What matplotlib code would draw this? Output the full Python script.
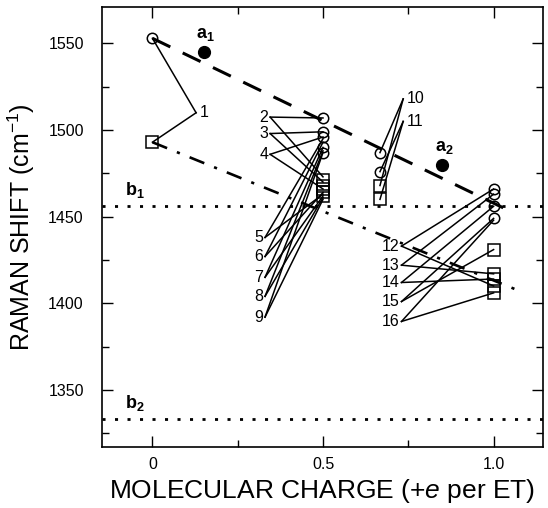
import matplotlib
matplotlib.use("Agg")
import matplotlib.pyplot as plt
import numpy as np

plt.rcParams['font.family'] = ['Liberation Sans', 'DejaVu Sans']
plt.rcParams['mathtext.fontset'] = 'custom'
plt.rcParams['mathtext.rm'] = 'Liberation Sans'
plt.rcParams['mathtext.it'] = 'Liberation Sans:italic'
plt.rcParams['mathtext.bf'] = 'Liberation Sans:bold'

# ---- data ----
circle_charge = [0, 0.5, 0.5, 0.5, 0.5, 0.5, 0.667, 0.667, 1.0, 1.0, 1.0, 1.0]
circle_shift = [1553, 1507, 1499, 1496, 1490, 1487, 1487, 1476, 1466, 1463, 1456, 1449]
square_charge = [0, 0.5, 0.5, 0.5, 0.5, 0.5, 0.667, 0.667, 1.0, 1.0, 1.0, 1.0, 1.0]
square_shift = [1493, 1471, 1468, 1466, 1464, 1462, 1468, 1460, 1431, 1417, 1414, 1410, 1406]

filled_charge = [0.15, 0.85]
filled_shift = [1545, 1480]
filled_names = [r'$\mathbf{a_1}$', r'$\mathbf{a_2}$']

trend_a_charge = [0.0, 1.04]
trend_a_shift = [1553, 1454]
trend_b_charge = [0.0, 1.065]
trend_b_shift = [1493, 1408]

b1_shift = 1456
b2_shift = 1333

# sample labels: junction point, target circle and square
label_names = ['1', '2', '3', '4', '5', '6', '7', '8', '9',
               '10', '11', '12', '13', '14', '15', '16']
label_charge = [0.128, 0.345, 0.345, 0.345, 0.33, 0.33, 0.33, 0.33, 0.33,
                0.735, 0.735, 0.73, 0.73, 0.73, 0.73, 0.73]
label_shift = [1510, 1507.5, 1498, 1486, 1438, 1427, 1415, 1404, 1392,
               1518, 1505, 1433, 1422, 1412, 1401, 1389.5]
label_side = ['r', 'l', 'l', 'l', 'l', 'l', 'l', 'l', 'l',
              'r', 'r', 'l', 'l', 'l', 'l', 'l']
link_charge = [0, 0.5, 0.5, 0.5, 0.5, 0.5, 0.5, 0.5, 0.5,
               0.667, 0.667, 1.0, 1.0, 1.0, 1.0, 1.0]
link_circle = [1553, 1507, 1499, 1496, 1495, 1493, 1490, 1488, 1487,
               1487, 1476, 1466, 1463, 1456, 1449, 1448]
link_square = [1493, 1473, 1470, 1466, 1463, 1464, 1462, 1461, 1460,
               1468, 1460, 1410, 1417, 1414, 1431, 1406]

xticks = [0, 0.5, 1.0]
xtick_labels = ['0', '0.5', '1.0']
yticks = [1350, 1400, 1450, 1500, 1550]

# ---- figure ----
fig = plt.figure(figsize=(5.48, 5.08), dpi=100)
ax = fig.add_axes([0.186, 0.120, 0.805, 0.866])
ax.set_xlim(-0.148, 1.145)
ax.set_ylim(1317, 1571)

# connector lines
for i in range(len(label_names)):
    lx, ly = label_charge[i], label_shift[i]
    ax.plot([lx, link_charge[i]], [ly, link_circle[i]], color='black', lw=1.1, zorder=2)
    ax.plot([lx, link_charge[i]], [ly, link_square[i]], color='black', lw=1.1, zorder=2)
    if label_side[i] == 'r':
        ax.text(lx + 0.01, ly, label_names[i], ha='left', va='center', fontsize=11.5)
    else:
        ax.text(lx - 0.005, ly, label_names[i], ha='right', va='center', fontsize=11.5)

# trend lines
ax.plot(trend_a_charge, trend_a_shift, color='black', lw=2.2,
        linestyle=(0, (6.5, 4.5)), zorder=3)
ax.plot(trend_b_charge, trend_b_shift, color='black', lw=1.9,
        linestyle=(0, (6, 4, 1.2, 4)), zorder=3)

# reference lines
ax.axhline(b1_shift, color='black', lw=2.0, linestyle=(0, (1.1, 3.4)), zorder=3)
ax.axhline(b2_shift, color='black', lw=2.0, linestyle=(0, (1.1, 3.4)), zorder=3)
ax.text(-0.08, b1_shift + 3.5, r'$\mathbf{b_1}$', ha='left', va='bottom', fontsize=13)
ax.text(-0.08, b2_shift + 3.5, r'$\mathbf{b_2}$', ha='left', va='bottom', fontsize=13)

# markers
ax.plot(circle_charge, circle_shift, linestyle='none', marker='o', markersize=7.5,
        markerfacecolor='none', markeredgecolor='black', markeredgewidth=1.1, zorder=4)
ax.plot(square_charge, square_shift, linestyle='none', marker='s', markersize=8,
        markerfacecolor='none', markeredgecolor='black', markeredgewidth=1.1, zorder=4)
ax.plot(filled_charge, filled_shift, linestyle='none', marker='o', markersize=8.5,
        color='black', zorder=4)
for x, y, n in zip(filled_charge, filled_shift, filled_names):
    ax.text(x + 0.005, y + 5, n, ha='center', va='bottom', fontsize=13)

# axes styling
ax.set_xticks(xticks)
ax.set_xticklabels(xtick_labels)
ax.set_xticks([0.25, 0.75], minor=True)
ax.set_yticks(yticks)
ax.set_yticks([1325, 1375, 1425, 1475, 1525], minor=True)
ax.tick_params(which='both', direction='in', top=True, right=True, labelsize=11.5, width=1.0)
ax.tick_params(which='major', length=8)
ax.tick_params(which='minor', length=5)
ax.tick_params(axis='y', which='major', pad=13)
ax.tick_params(axis='x', which='major', pad=7)
for s in ax.spines.values():
    s.set_linewidth(1.2)

ax.set_xlabel(r'MOLECULAR CHARGE (+$\mathit{e}$ per ET)', fontsize=19, labelpad=4)
ax.set_ylabel(r'RAMAN SHIFT (cm$^{\mathregular{-1}}$)', fontsize=18, labelpad=8)

fig.savefig('out.png', dpi=100)
